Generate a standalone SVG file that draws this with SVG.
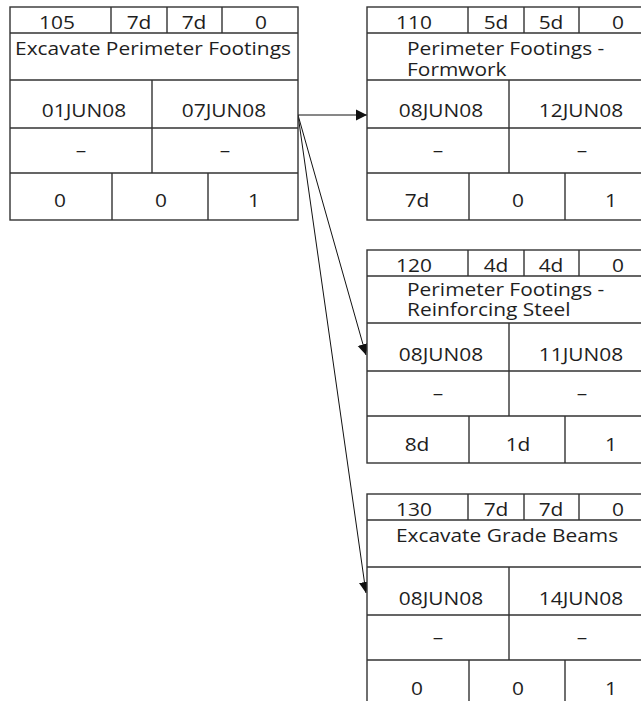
<svg xmlns="http://www.w3.org/2000/svg" width="641" height="701" viewBox="0 0 641 701">
  <style>
    .box { fill: #ffffff; stroke: #333333; stroke-width: 1.4; }
    .grid { stroke: #333333; stroke-width: 1.4; fill: none; }
    text { font-family: "Open Sans", "Noto Sans", "DejaVu Sans", sans-serif; font-size: 19px; fill: #1e1e1e; }
    .c { text-anchor: middle; }
    .link { stroke: #111111; stroke-width: 1; fill: none; marker-end: url(#head); }
  </style>
  <defs>
    <marker id="head" markerUnits="userSpaceOnUse" markerWidth="11" markerHeight="12" refX="11" refY="6" orient="auto">
      <path d="M0,0.5 L11,6 L0,11.5 Z" fill="#111111"/>
    </marker>
    <!-- activity card frame: header / title / dates / dashes / floats -->
    <g id="card">
      <rect class="box" x="0" y="0" width="288" height="213"/>
      <path class="grid" d="M0,26 H288 M0,73 H288 M0,121 H288 M0,166 H288 M101,0 V26 M157,0 V26 M212,0 V26 M142,73 V166 M102,166 V213 M198,166 V213"/>
    </g>
  </defs>

  <g id="connectors">
    <path class="link" d="M298,115 H367"/>
    <path class="link" d="M298,115 L366,355"/>
    <path class="link" d="M298,115 L366,593"/>
  </g>

  <!-- card labels use a slightly widened face: x values are divided by 1.1 -->
  <g id="node-105" transform="translate(10,7)">
    <use href="#card"/>
    <g transform="scale(1.1 1)">
      <text class="c" x="42.7" y="22">105</text>
      <text class="c" x="117.3" y="22">7d</text>
      <text class="c" x="167.3" y="22">7d</text>
      <text class="c" x="228.2" y="22">0</text>
      <text class="c" x="130" y="48">Excavate Perimeter Footings</text>
      <text class="c" x="67.3" y="110">01JUN08</text>
      <text class="c" x="194.5" y="110">07JUN08</text>
      <text class="c" x="64.5" y="150">–</text>
      <text class="c" x="195.5" y="150">–</text>
      <text class="c" x="45.5" y="200">0</text>
      <text class="c" x="137.3" y="200">0</text>
      <text class="c" x="221.8" y="200">1</text>
    </g>
  </g>

  <g id="node-110" transform="translate(367,7)">
    <use href="#card"/>
    <g transform="scale(1.1 1)">
      <text class="c" x="42.7" y="22">110</text>
      <text class="c" x="117.3" y="22">5d</text>
      <text class="c" x="167.3" y="22">5d</text>
      <text class="c" x="228.2" y="22">0</text>
      <text x="36.4" y="48">Perimeter Footings -</text>
      <text x="36.4" y="69">Formwork</text>
      <text class="c" x="67.3" y="110">08JUN08</text>
      <text class="c" x="194.5" y="110">12JUN08</text>
      <text class="c" x="64.5" y="150">–</text>
      <text class="c" x="195.5" y="150">–</text>
      <text class="c" x="45.5" y="200">7d</text>
      <text class="c" x="137.3" y="200">0</text>
      <text class="c" x="221.8" y="200">1</text>
    </g>
  </g>

  <g id="node-120" transform="translate(367,250)">
    <use href="#card"/>
    <g transform="scale(1.1 1)">
      <text class="c" x="42.7" y="22">120</text>
      <text class="c" x="117.3" y="22">4d</text>
      <text class="c" x="167.3" y="22">4d</text>
      <text class="c" x="228.2" y="22">0</text>
      <text x="36.4" y="46">Perimeter Footings -</text>
      <text x="36.4" y="66">Reinforcing Steel</text>
      <text class="c" x="67.3" y="111">08JUN08</text>
      <text class="c" x="194.5" y="111">11JUN08</text>
      <text class="c" x="64.5" y="150">–</text>
      <text class="c" x="195.5" y="150">–</text>
      <text class="c" x="45.5" y="201">8d</text>
      <text class="c" x="137.3" y="201">1d</text>
      <text class="c" x="221.8" y="201">1</text>
    </g>
  </g>

  <g id="node-130" transform="translate(367,494)">
    <use href="#card"/>
    <g transform="scale(1.1 1)">
      <text class="c" x="42.7" y="22">130</text>
      <text class="c" x="117.3" y="22">7d</text>
      <text class="c" x="167.3" y="22">7d</text>
      <text class="c" x="228.2" y="22">0</text>
      <text class="c" x="127.3" y="48">Excavate Grade Beams</text>
      <text class="c" x="67.3" y="111">08JUN08</text>
      <text class="c" x="194.5" y="111">14JUN08</text>
      <text class="c" x="64.5" y="150">–</text>
      <text class="c" x="195.5" y="150">–</text>
      <text class="c" x="45.5" y="201">0</text>
      <text class="c" x="137.3" y="201">0</text>
      <text class="c" x="221.8" y="201">1</text>
    </g>
  </g>
</svg>
